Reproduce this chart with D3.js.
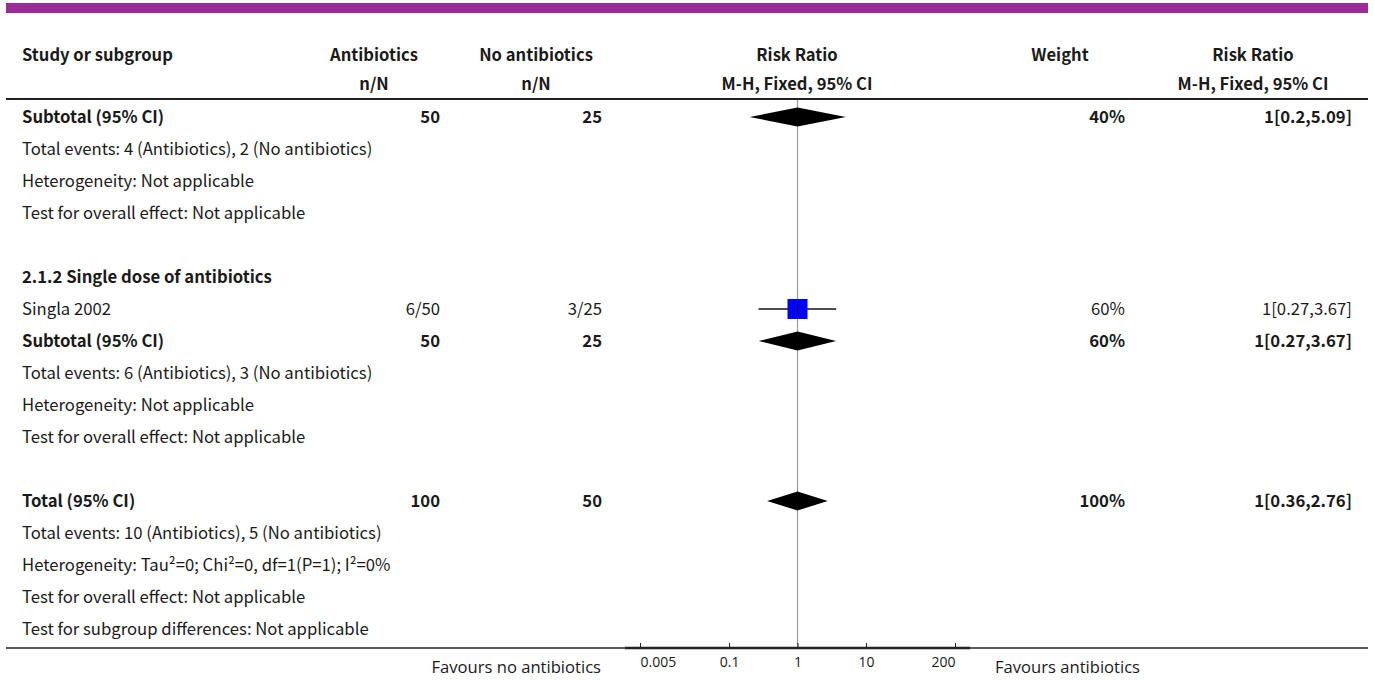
<!DOCTYPE html>
<html>
<head>
<meta charset="utf-8">
<script src="https://cdn.jsdelivr.net/npm/d3@7"></script>
<style>
  body { margin: 0; background: #fff; }
  svg text { font-family: "Noto Sans CJK SC", Lato, sans-serif; fill: #1a1a1a; }
  svg .tick text { font-family: "Open Sans", sans-serif; font-size: 14px; }
</style>
</head>
<body>
<svg id="forest" width="1375" height="680"></svg>
<script>
// rows of the table, top to bottom
const rowLabels = [
  "Subtotal (95% CI)",
  "Total events: 4 (Antibiotics), 2 (No antibiotics)",
  "Heterogeneity: Not applicable",
  "Test for overall effect: Not applicable",
  "",
  "2.1.2 Single dose of antibiotics",
  "Singla 2002",
  "Subtotal (95% CI)",
  "Total events: 6 (Antibiotics), 3 (No antibiotics)",
  "Heterogeneity: Not applicable",
  "Test for overall effect: Not applicable",
  "",
  "Total (95% CI)",
  "Total events: 10 (Antibiotics), 5 (No antibiotics)",
  "Heterogeneity: Tau\u00B2=0; Chi\u00B2=0, df=1(P=1); I\u00B2=0%",
  "Test for overall effect: Not applicable",
  "Test for subgroup differences: Not applicable"
];
const rowKinds = ["summary", "text", "text", "text", "blank", "heading", "study", "summary",
  "text", "text", "text", "blank", "summary", "text", "text", "text", "text"];
const antibioticsCol = ["50", "", "", "", "", "", "6/50", "50", "", "", "", "", "100", "", "", "", ""];
const noAntibioticsCol = ["25", "", "", "", "", "", "3/25", "25", "", "", "", "", "50", "", "", "", ""];
const weightCol = ["40%", "", "", "", "", "", "60%", "60%", "", "", "", "", "100%", "", "", "", ""];
const rrMid = [1, null, null, null, null, null, 1, 1, null, null, null, null, 1, null, null, null, null];
const rrLow = [0.2, null, null, null, null, null, 0.27, 0.27, null, null, null, null, 0.36, null, null, null, null];
const rrHigh = [5.09, null, null, null, null, null, 3.67, 3.67, null, null, null, null, 2.76, null, null, null, null];
const axisTicks = [0.005, 0.1, 1, 10, 200];

const svg = d3.select("#forest");

const y = d3.scaleLinear().domain([0, rowLabels.length - 1]).range([117, 629]);
const x = d3.scaleLog().domain([0.005, 200]).range([640, 955]);

// purple band on top
svg.append("rect").attr("x", 6).attr("y", 3).attr("width", 1362).attr("height", 10).attr("fill", "#9e2a98");

// header
const head = svg.append("g").style("font-weight", "bold").style("font-size", "16.6px");
const headCols = [
  { t1: "Study or subgroup", t2: "", x: 22, anchor: "start" },
  { t1: "Antibiotics", t2: "n/N", x: 374, anchor: "middle" },
  { t1: "No antibiotics", t2: "n/N", x: 536, anchor: "middle" },
  { t1: "Risk Ratio", t2: "M-H, Fixed, 95% CI", x: 797, anchor: "middle" },
  { t1: "Weight", t2: "", x: 1060, anchor: "middle" },
  { t1: "Risk Ratio", t2: "M-H, Fixed, 95% CI", x: 1253, anchor: "middle" }
];
headCols.forEach(c => {
  head.append("text").attr("x", c.x).attr("y", 55).attr("dy", "0.35em").attr("text-anchor", c.anchor).text(c.t1);
  head.append("text").attr("x", c.x).attr("y", 84).attr("dy", "0.35em").attr("text-anchor", c.anchor).text(c.t2);
});

svg.append("line").attr("x1", 6).attr("x2", 1368).attr("y1", 99).attr("y2", 99)
  .attr("stroke", "#222").attr("stroke-width", 2);

// vertical line of no effect
svg.append("line").attr("x1", x(1)).attr("x2", x(1)).attr("y1", 100).attr("y2", 648)
  .attr("stroke", "#9a9a9a").attr("stroke-width", 1.2);

// table rows
const rows = svg.append("g").selectAll("g").data(rowLabels.map((d, i) => i)).join("g")
  .attr("transform", i => `translate(0,${y(i)})`)
  .style("font-size", "16.7px")
  .style("font-weight", i => (rowKinds[i] === "summary" || rowKinds[i] === "heading") ? "bold" : "normal");

rows.append("text").attr("x", 22).attr("dy", "0.35em").text(i => rowLabels[i]);
rows.append("text").attr("x", 440).attr("dy", "0.35em").attr("text-anchor", "end").text(i => antibioticsCol[i]);
rows.append("text").attr("x", 602).attr("dy", "0.35em").attr("text-anchor", "end").text(i => noAntibioticsCol[i]);
rows.append("text").attr("x", 1125).attr("dy", "0.35em").attr("text-anchor", "end").text(i => weightCol[i]);
rows.append("text").attr("x", 1352).attr("dy", "0.35em").attr("text-anchor", "end")
  .text(i => rrMid[i] == null ? "" : `${rrMid[i]}[${rrLow[i]},${rrHigh[i]}]`);

// study estimates
const studyIdx = rowKinds.map((k, i) => i).filter(i => rowKinds[i] === "study");
const boxSize = d3.scaleSqrt().domain([0, 60]).range([0, 20]);
const studies = svg.append("g").selectAll("g").data(studyIdx).join("g")
  .attr("transform", i => `translate(0,${y(i)})`);
studies.append("line").attr("x1", i => x(rrLow[i])).attr("x2", i => x(rrHigh[i]))
  .attr("stroke", "#111").attr("stroke-width", 1.5);
studies.append("rect")
  .attr("x", i => x(rrMid[i]) - boxSize(parseFloat(weightCol[i])) / 2)
  .attr("y", i => -boxSize(parseFloat(weightCol[i])) / 2)
  .attr("width", i => boxSize(parseFloat(weightCol[i])))
  .attr("height", i => boxSize(parseFloat(weightCol[i])))
  .attr("fill", "#0000ff");
studies.append("line").attr("x1", i => x(rrMid[i])).attr("x2", i => x(rrMid[i]))
  .attr("y1", -4).attr("y2", 4).attr("stroke", "#111").attr("stroke-width", 1);

// pooled diamonds
const summaryIdx = rowKinds.map((k, i) => i).filter(i => rowKinds[i] === "summary");
svg.append("g").selectAll("path").data(summaryIdx).join("path")
  .attr("d", i => {
    const yc = y(i), h = 9.5;
    return `M${x(rrLow[i])},${yc}L${x(rrMid[i])},${yc - h}L${x(rrHigh[i])},${yc}L${x(rrMid[i])},${yc + h}Z`;
  })
  .attr("fill", "#000");

// bottom rule and axis
svg.append("line").attr("x1", 6).attr("x2", 1368).attr("y1", 648).attr("y2", 648)
  .attr("stroke", "#222").attr("stroke-width", 1.5);
svg.append("line").attr("x1", x(0.005) - 15).attr("x2", x(200) + 15).attr("y1", 648).attr("y2", 648)
  .attr("stroke", "#222").attr("stroke-width", 2.5);

const axis = d3.axisBottom(x).tickValues(axisTicks).tickSizeInner(-5).tickSizeOuter(0)
  .tickPadding(9).tickFormat(d => String(d));
const axisG = svg.append("g").attr("transform", "translate(0,648)").call(axis);
axisG.select(".domain").remove();
axisG.selectAll(".tick line").attr("stroke", "#222");
axisG.selectAll(".tick text").attr("fill", "#1a1a1a")
  .attr("text-anchor", (d, i) => i === 0 ? "start" : (i === axisTicks.length - 1 ? "end" : "middle"));

svg.append("text").attr("x", 601).attr("y", 667).attr("dy", "0.35em").attr("text-anchor", "end")
  .style("font-family", "'Open Sans', sans-serif").style("font-size", "16.6px").text("Favours no antibiotics");
svg.append("text").attr("x", 995).attr("y", 667).attr("dy", "0.35em")
  .style("font-family", "'Open Sans', sans-serif").style("font-size", "16.6px").text("Favours antibiotics");
</script>
</body>
</html>
